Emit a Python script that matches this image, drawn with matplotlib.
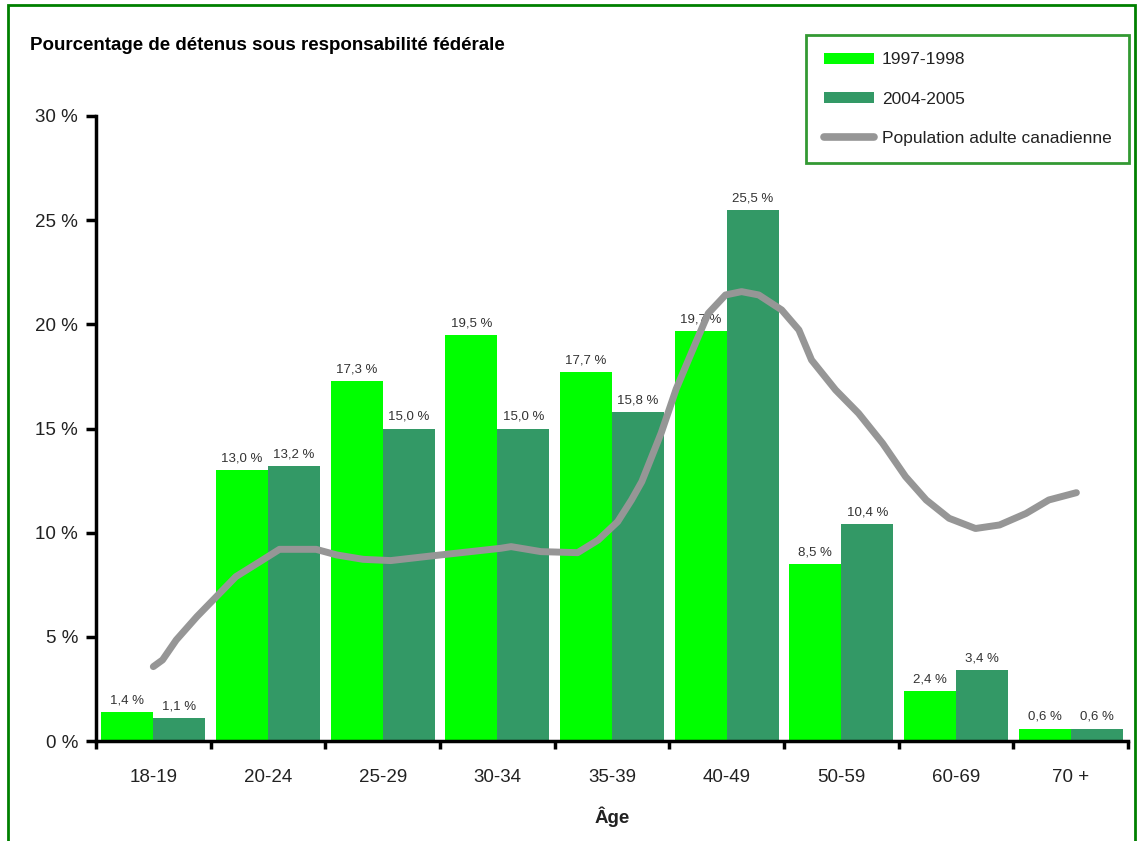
import matplotlib
matplotlib.use('Agg')
import matplotlib.pyplot as plt
import numpy as np
from matplotlib.patches import Rectangle, Patch
from matplotlib.lines import Line2D

plt.rcParams['font.family'] = ['Liberation Sans', 'DejaVu Sans']

ages = ['18-19', '20-24', '25-29', '30-34', '35-39', '40-49', '50-59', '60-69', '70 +']
detenus_1997 = [1.4, 13.0, 17.3, 19.5, 17.7, 19.7, 8.5, 2.4, 0.6]
detenus_2004 = [1.1, 13.2, 15.0, 15.0, 15.8, 25.5, 10.4, 3.4, 0.6]

# population adulte canadienne, tracee point par point (position en categories, %)
pop_x = [0.00, 0.08, 0.20, 0.38, 0.55, 0.72, 0.93, 1.10, 1.42, 1.60, 1.83, 2.07,
         2.42, 3.03, 3.12, 3.38, 3.70, 3.88, 4.05, 4.17, 4.26, 4.43, 4.56, 4.74,
         4.84, 4.99, 5.13, 5.28, 5.48, 5.63, 5.74, 5.95, 6.15, 6.36, 6.56, 6.74,
         6.94, 7.17, 7.38, 7.61, 7.81, 8.05]
pop_y = [3.57, 3.89, 4.85, 5.97, 6.93, 7.89, 8.61, 9.20, 9.20, 8.93, 8.72, 8.66,
         8.88, 9.25, 9.33, 9.09, 9.04, 9.65, 10.53, 11.57, 12.45, 14.8, 16.9, 19.25,
         20.53, 21.41, 21.57, 21.41, 20.69, 19.73, 18.29, 16.85, 15.73, 14.29, 12.69, 11.57,
         10.69, 10.20, 10.37, 10.92, 11.57, 11.92]

c_light = '#00FF00'
c_dark = '#339966'
c_line = '#969696'
c_frame = '#008000'
c_text = '#222222'

fig = plt.figure(figsize=(11.38, 8.41), dpi=100)
ax = fig.add_axes([96 / 1138, 1 - 741 / 841, (1128 - 96) / 1138, (741 - 116) / 841])

x = np.arange(len(ages))
w = 0.453
ax.bar(x - w, detenus_1997, width=w, align='edge', color=c_light, zorder=2)
ax.bar(x, detenus_2004, width=w, align='edge', color=c_dark, zorder=2)

for xi, v in zip(x, detenus_1997):
    ax.annotate(f'{v:.1f} %'.replace('.', ','), (xi - w / 2, v), xytext=(0, 4),
                textcoords='offset points', ha='center', va='bottom',
                fontsize=9.5, color='#333333')
for xi, v in zip(x, detenus_2004):
    ax.annotate(f'{v:.1f} %'.replace('.', ','), (xi + w / 2, v), xytext=(0, 4),
                textcoords='offset points', ha='center', va='bottom',
                fontsize=9.5, color='#333333')

ax.plot(pop_x, pop_y, color=c_line, lw=5, solid_capstyle='round',
        solid_joinstyle='round', zorder=3)

ax.set_xlim(-0.5, len(ages) - 0.5)
ax.set_ylim(0, 30)
ax.set_yticks(range(0, 31, 5))
ax.set_yticklabels([f'{t} %' for t in range(0, 31, 5)], fontsize=13.5, color=c_text)
ax.set_xticks(np.arange(-0.5, len(ages), 1.0))
ax.set_xticklabels([])
ax.set_xticks(x, minor=True)
ax.set_xticklabels(ages, minor=True, fontsize=13.5, color=c_text)
ax.tick_params(axis='x', which='minor', length=0, pad=20)
ax.tick_params(axis='x', which='major', length=6, width=2.5, direction='out')
ax.tick_params(axis='y', length=7, width=2.5, direction='out', pad=6)

for s in ['top', 'right']:
    ax.spines[s].set_visible(False)
for s in ['left', 'bottom']:
    ax.spines[s].set_linewidth(2.5)
    ax.spines[s].set_color('black')

ax.set_xlabel('Âge', fontsize=13.5, fontweight='bold', color=c_text, labelpad=15)

fig.text(30 / 1138, 1 - 46 / 841, 'Pourcentage de détenus sous responsabilité fédérale',
         fontsize=13.5, fontweight='bold', color='black', va='center', ha='left')

# cadre vert autour de la figure (ouvert en bas)
fig.patches.append(Rectangle((8 / 1138, -0.05), (1135 - 8) / 1138, 1.05 - 5 / 841,
                             transform=fig.transFigure, fill=False,
                             edgecolor=c_frame, lw=2, zorder=0))

handles = [Patch(facecolor=c_light, edgecolor='none'),
           Patch(facecolor=c_dark, edgecolor='none'),
           Line2D([0], [0], color=c_line, lw=5.5, solid_capstyle='round')]
labels = ['1997-1998', '2004-2005', 'Population adulte canadienne']
leg = fig.legend(handles, labels, loc='upper right',
                 bbox_to_anchor=(1129 / 1138, 1 - 35 / 841), fontsize=12.5,
                 frameon=True, fancybox=False, edgecolor=c_frame,
                 handlelength=2.9, handleheight=0.6, labelspacing=1.4,
                 borderpad=1.0, handletextpad=0.45, borderaxespad=0)
leg.get_frame().set_linewidth(2)
for t in leg.get_texts():
    t.set_color(c_text)

fig.savefig('out.png', dpi=100)
